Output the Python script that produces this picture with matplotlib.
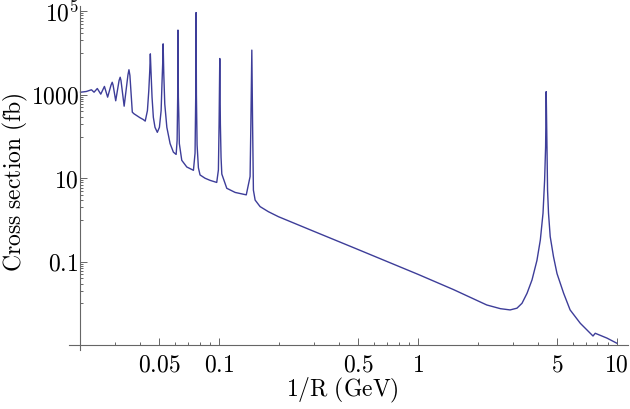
import matplotlib
matplotlib.use('Agg')
import matplotlib.pyplot as plt
from matplotlib.ticker import FixedLocator, FixedFormatter, NullFormatter

# values: 1/R in GeV, cross section in fb
inv_r = [0.0201, 0.0215, 0.0228, 0.0235, 0.0244, 0.0254, 0.0265, 0.0275,
         0.0286, 0.0290, 0.0293, 0.0302, 0.0314, 0.0318, 0.0321, 0.0333,
         0.0348, 0.0352, 0.0356, 0.0366, 0.0373, 0.0400, 0.0415, 0.0425,
         0.0436, 0.0443, 0.0448, 0.0451, 0.0455, 0.0460, 0.0467, 0.0476,
         0.0489, 0.0501, 0.0511, 0.0516, 0.0521, 0.0523, 0.0527, 0.0533,
         0.0546, 0.0567, 0.0589, 0.0608, 0.0615, 0.0619, 0.0621, 0.0624,
         0.0627, 0.0631, 0.0649, 0.0688, 0.0743, 0.0757, 0.0763, 0.0766,
         0.0769, 0.0775, 0.0787, 0.0802, 0.0850, 0.0901, 0.0973, 0.0992,
         0.1000, 0.1008, 0.1015, 0.1023, 0.1032, 0.1093, 0.1205, 0.1370,
         0.1432, 0.1445, 0.1461, 0.1474, 0.1488, 0.1518, 0.1608, 0.1770,
         0.1988, 0.2927, 0.483, 1.00, 1.51, 2.22, 2.60, 2.91, 3.15,
         3.34, 3.54, 3.75, 3.97, 4.13, 4.26, 4.34, 4.39, 4.42, 4.46, 4.49,
         4.54, 4.63, 4.81, 5.01, 5.41, 5.83, 6.56, 7.60, 7.80, 8.93, 10.0]
xsec = [1150, 1200, 1318, 1153, 1413, 1035, 1585, 877,
        1700, 1995, 1700, 718, 2200, 2630, 2200, 533,
        3000, 3980, 2900, 383, 351, 282, 256, 234,
        417, 1259, 3800, 9550, 3160, 871, 288, 166,
        126, 166, 417, 1820, 6600, 16600, 3160, 603,
        166, 67.6, 42.2, 37.2, 80.4, 871, 35500, 871,
        351, 67.6, 26.9, 18.6, 15.5, 40, 1000, 93300,
        1000, 63, 17.8, 12.0, 10.0, 8.9, 7.94, 15.8,
        200, 7400, 200, 31.6, 12.6, 5.75, 4.57, 4.0,
        11.0, 200, 11750, 200, 5.2, 3.0, 2.09, 1.58,
        1.2, 0.56, 0.21, 0.050, 0.0215, 0.0092, 0.0075, 0.0070, 0.0077,
        0.0101, 0.0175, 0.0366, 0.107, 0.333, 1.45, 9.1, 57, 1190, 57, 5.2,
        1.45, 0.40, 0.132, 0.052, 0.0175, 0.0070, 0.00335, 0.00166, 0.00193, 0.00148, 0.00112]

x_major = [0.05, 0.1, 0.5, 1, 5, 10]
x_major_labels = ['$0.05$', '$0.1$', '$0.5$', '$1$', '$5$', '$10$']
y_major = [0.1, 10, 1000, 1e5]
y_major_labels = ['$0.1$', '$10$', '$1000$', '$10^5$']

plt.rcParams['mathtext.fontset'] = 'cm'
plt.rcParams['font.family'] = 'serif'

fig = plt.figure(figsize=(6.3, 4.09), dpi=100)
ax = fig.add_axes([69/630, 59/409, 559/630, 344/409])

ax.plot(inv_r, xsec, color='#3d3d99', lw=1.0)
ax.set_xscale('log')
ax.set_yscale('log')
ax.set_xlim(0.01758, 11.4)
ax.set_ylim(7.67e-4, 1.34e5)

for s in ['top', 'right']:
    ax.spines[s].set_visible(False)
ax.spines['left'].set_position(('data', 0.02))
ax.spines['bottom'].set_position(('data', 1e-3))
for s in ['left', 'bottom']:
    ax.spines[s].set_color('#666666')
    ax.spines[s].set_linewidth(0.8)

# minor ticks, Mathematica style
x_minor = [m * 10.0**e for e in (-2, -1, 0) for m in range(2, 10)
           if m * 10.0**e not in x_major]
x_minor = [v for v in x_minor if v > 0.02]
y_minor = []
for e in (-1, 1, 3, 5):
    y_minor += [m * 10.0**(e - 1) for m in range(1, 10)]
y_minor = [v for v in y_minor if v not in y_major and v > 1e-3]

ax.xaxis.set_major_locator(FixedLocator(x_major))
ax.xaxis.set_major_formatter(FixedFormatter(x_major_labels))
ax.xaxis.set_minor_locator(FixedLocator(x_minor))
ax.xaxis.set_minor_formatter(NullFormatter())
ax.yaxis.set_major_locator(FixedLocator(y_major))
ax.yaxis.set_major_formatter(FixedFormatter(y_major_labels))
ax.yaxis.set_minor_locator(FixedLocator(y_minor))
ax.yaxis.set_minor_formatter(NullFormatter())

ax.tick_params(which='both', direction='in', color='#666666', width=0.7,
               labelsize=17)
ax.tick_params(which='major', length=5)
ax.tick_params(which='minor', length=2.5)
ax.tick_params(axis='x', which='major', pad=6)
ax.tick_params(axis='y', which='major', pad=1)

ax.set_xlabel(r'$\mathrm{1/R\ (GeV)}$', fontsize=17)
ax.set_ylabel(r'$\mathrm{Cross\ section\ (fb)}$', fontsize=17)
ax.xaxis.set_label_coords(0.489, -0.075)
ax.yaxis.set_label_coords(-0.069, 0.488)

fig.savefig('out.png', dpi=100)
